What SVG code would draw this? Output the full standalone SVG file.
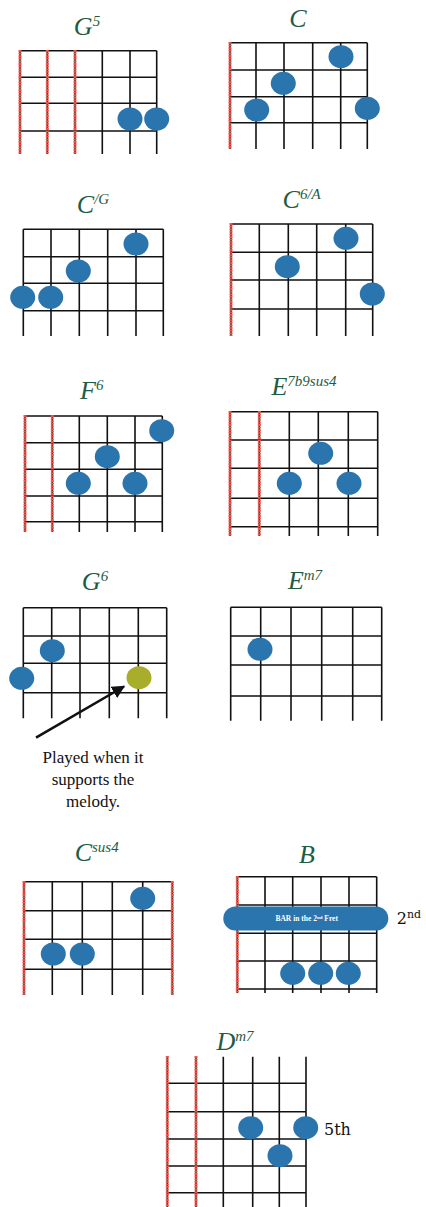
<svg xmlns="http://www.w3.org/2000/svg" width="426" height="1207" viewBox="0 0 426 1207">
<style>
.grid{fill:none;stroke:#111;stroke-width:1.6}
.red{fill:none;stroke:#ec5348;stroke-width:3;stroke-dasharray:2 0.6}
.dot{fill:#2a75ad}
.olive{fill:#a9ad2c}
.title{font-family:"Liberation Serif","Times New Roman","DejaVu Serif",serif;font-style:italic;font-size:26px;fill:#1f5c44;text-anchor:middle}
.sup{font-size:15px}
.note{font-family:"Liberation Serif","Times New Roman","DejaVu Serif",serif;font-size:17px;fill:#111;text-anchor:middle}
.mark{font-family:"DejaVu Serif","Liberation Serif",serif;font-size:16px;fill:#111}
</style>
<defs>
<marker id="ah" viewBox="0 0 10 10" refX="9" refY="5" markerWidth="5" markerHeight="5" orient="auto"><path d="M0,0L10,5L0,10z" fill="#111"/></marker>
</defs>
<rect width="426" height="1207" fill="#fff"/>

<g id="g5">
<text class="title" x="87" y="35">G<tspan class="sup" dy="-9">5</tspan></text>
<path class="grid" d="M20 50.7V154M47.3 50.7V154M75 50.7V154M102.3 50.7V154M130 50.7V154M156.7 50.7V154M20 50.7H156.7M20 77.3H156.7M20 103.3H156.7M20 131H156.7"/>
<path class="red" d="M20 50V154M47.3 50V154M75 50V154"/>
<ellipse class="dot" cx="130" cy="119" rx="12.5" ry="11.5"/>
<ellipse class="dot" cx="156.7" cy="119" rx="12.5" ry="11.5"/>
</g>

<g id="c">
<text class="title" x="298" y="27">C</text>
<path class="grid" d="M230 42.7V149M256 42.7V149M284 42.7V149M312.7 42.7V149M340.7 42.7V149M367.3 42.7V149M230 42.7H367.3M230 70H367.3M230 96.7H367.3M230 122.7H367.3"/>
<path class="red" d="M230 42V149"/>
<ellipse class="dot" cx="256.7" cy="110" rx="12.5" ry="11.5"/>
<ellipse class="dot" cx="283.3" cy="83.3" rx="12.5" ry="11.5"/>
<ellipse class="dot" cx="341" cy="56.7" rx="12.5" ry="11.5"/>
<ellipse class="dot" cx="367.3" cy="108.3" rx="12.5" ry="11.5"/>
</g>

<g id="cg">
<text class="title" x="93" y="213">C<tspan class="sup" dy="-9">/G</tspan></text>
<path class="grid" d="M23.3 229.3V336M51 229.3V336M79.3 229.3V336M107.7 229.3V336M136 229.3V336M163.3 229.3V336M23.3 229.3H163.3M23.3 256.7H163.3M23.3 283.3H163.3M23.3 310.7H163.3"/>
<ellipse class="dot" cx="22.7" cy="297.3" rx="12.5" ry="11.5"/>
<ellipse class="dot" cx="50.7" cy="297.3" rx="12.5" ry="11.5"/>
<ellipse class="dot" cx="78.3" cy="271" rx="12.5" ry="11.5"/>
<ellipse class="dot" cx="136" cy="244" rx="12.5" ry="11.5"/>
</g>

<g id="c6a">
<text class="title" x="301.7" y="208">C<tspan class="sup" dy="-9">6/A</tspan></text>
<path class="grid" d="M231 224V336M259.3 224V336M288.3 224V336M316.7 224V336M345.7 224V336M372.7 224V336M231 224H372.7M231 252.3H372.7M231 280H372.7M231 309H372.7"/>
<path class="red" d="M231 223V336"/>
<ellipse class="dot" cx="287.3" cy="266.7" rx="12.5" ry="11.5"/>
<ellipse class="dot" cx="346" cy="238.3" rx="12.5" ry="11.5"/>
<ellipse class="dot" cx="372.3" cy="294" rx="12.5" ry="11.5"/>
</g>

<g id="f6">
<text class="title" x="91.7" y="399">F<tspan class="sup" dy="-9">6</tspan></text>
<path class="grid" d="M25 416V532M52.3 416V532M79.3 416V532M107.3 416V532M135 416V532M162.3 416V532M25 416H162.3M25 442.7H162.3M25 469.3H162.3M25 496H162.3M25 521.7H162.3"/>
<path class="red" d="M25 415V532M52.3 415V532"/>
<ellipse class="dot" cx="78.3" cy="483.3" rx="12.5" ry="11.5"/>
<ellipse class="dot" cx="107.3" cy="456.7" rx="12.5" ry="11.5"/>
<ellipse class="dot" cx="135" cy="483.3" rx="12.5" ry="11.5"/>
<ellipse class="dot" cx="161.7" cy="430.7" rx="12.5" ry="11.5"/>
</g>

<g id="e7b9sus4">
<text class="title" x="304" y="395">E<tspan class="sup" dy="-9">7b9sus4</tspan></text>
<path class="grid" d="M230 411.7V536M259.3 411.7V536M289.3 411.7V536M318.3 411.7V536M348.3 411.7V536M377.7 411.7V536M230 411.7H377.7M230 440H377.7M230 468.3H377.7M230 498.3H377.7M230 526.7H377.7"/>
<path class="red" d="M230 411V536M259.3 411V536"/>
<ellipse class="dot" cx="289.3" cy="483.3" rx="12.5" ry="11.5"/>
<ellipse class="dot" cx="320.7" cy="453.3" rx="12.5" ry="11.5"/>
<ellipse class="dot" cx="349" cy="483.3" rx="12.5" ry="11.5"/>
</g>

<g id="g6">
<text class="title" x="95" y="590">G<tspan class="sup" dy="-9">6</tspan></text>
<path class="grid" d="M23.3 607.7V718.3M51.7 607.7V718.3M80 607.7V718.3M109.3 607.7V718.3M138.3 607.7V718.3M166.7 607.7V718.3M23.3 607.7H166.7M23.3 636H166.7M23.3 663.3H166.7M23.3 692.7H166.7"/>
<ellipse class="dot" cx="21.7" cy="678.3" rx="12.5" ry="11.5"/>
<ellipse class="dot" cx="52.3" cy="650.7" rx="12.5" ry="11.5"/>
<ellipse class="olive" cx="139" cy="677.7" rx="12.5" ry="11.5"/>
<text class="note" x="93" y="763">Played when it</text>
<text class="note" x="93" y="785">supports the</text>
<text class="note" x="93" y="807">melody.</text>
</g>

<g id="em7">
<text class="title" x="305" y="589">E<tspan class="sup" dy="-9">m7</tspan></text>
<path class="grid" d="M230.7 607.3V720.7M260.7 607.3V720.7M291 607.3V720.7M321.7 607.3V720.7M352.7 607.3V720.7M381.7 607.3V720.7M230.7 607.3H381.7M230.7 636H381.7M230.7 665H381.7M230.7 696H381.7"/>
<ellipse class="dot" cx="260" cy="649.3" rx="12.5" ry="11.5"/>
</g>

<g id="csus4">
<text class="title" x="96.7" y="861">C<tspan class="sup" dy="-9">sus4</tspan></text>
<path class="grid" d="M24 881.7V995M52.3 881.7V995M82.3 881.7V995M112.3 881.7V995M142.7 881.7V995M172.3 881.7V995M24 881.7H172.3M24 910.7H172.3M24 939.3H172.3M24 969.3H172.3"/>
<path class="red" d="M24 881V995M172.3 881V995"/>
<ellipse class="dot" cx="53.3" cy="954" rx="12.5" ry="11.5"/>
<ellipse class="dot" cx="82.3" cy="954" rx="12.5" ry="11.5"/>
<ellipse class="dot" cx="142.7" cy="898.3" rx="12.5" ry="11.5"/>
</g>

<g id="b">
<text class="title" x="307" y="863">B</text>
<path class="grid" d="M237.3 876.7V993M265 876.7V993M292.7 876.7V993M321 876.7V993M349 876.7V993M376.7 876.7V993M237.3 876.7H376.7M237.3 905H376.7M237.3 933.3H376.7M237.3 961H376.7M237.3 989H376.7"/>
<path class="red" d="M237.3 876V993"/>
<rect class="dot" x="223.3" y="906.5" width="165" height="24" rx="12"/>
<text x="306.7" y="921" font-family="Liberation Serif,Times New Roman,serif" font-size="7.5" font-weight="bold" fill="#fff" text-anchor="middle">BAR in the 2<tspan font-size="5" dy="-2.5">nd</tspan><tspan dy="2.5"> Fret</tspan></text>
<ellipse class="dot" cx="292.7" cy="973.3" rx="12.5" ry="11.5"/>
<ellipse class="dot" cx="320.7" cy="973.3" rx="12.5" ry="11.5"/>
<ellipse class="dot" cx="348.3" cy="973.3" rx="12.5" ry="11.5"/>
<text class="mark" x="396.7" y="923.5">2<tspan font-size="11" dy="-6">nd</tspan></text>
</g>

<g id="dm7">
<text class="title" x="235" y="1050">D<tspan class="sup" dy="-9">m7</tspan></text>
<path class="grid" d="M167.3 1056.7V1207M196 1056.7V1207M223.3 1056.7V1207M252.7 1056.7V1207M279.3 1056.7V1207M306 1056.7V1207M167.3 1083.3H306M167.3 1111.7H306M167.3 1139H306M167.3 1166H306M167.3 1192.7H306"/>
<path class="red" d="M167.3 1056V1207M196 1056V1207"/>
<ellipse class="dot" cx="250.7" cy="1127.7" rx="12.5" ry="11.5"/>
<ellipse class="dot" cx="280" cy="1155.7" rx="12.5" ry="11.5"/>
<ellipse class="dot" cx="305.7" cy="1127.7" rx="12.5" ry="11.5"/>
<text class="mark" x="324" y="1135">5th</text>
</g>

<g id="connectors">
<line x1="36" y1="737.7" x2="124" y2="686.5" stroke="#111" stroke-width="2.6" marker-end="url(#ah)"/>
</g>
</svg>
